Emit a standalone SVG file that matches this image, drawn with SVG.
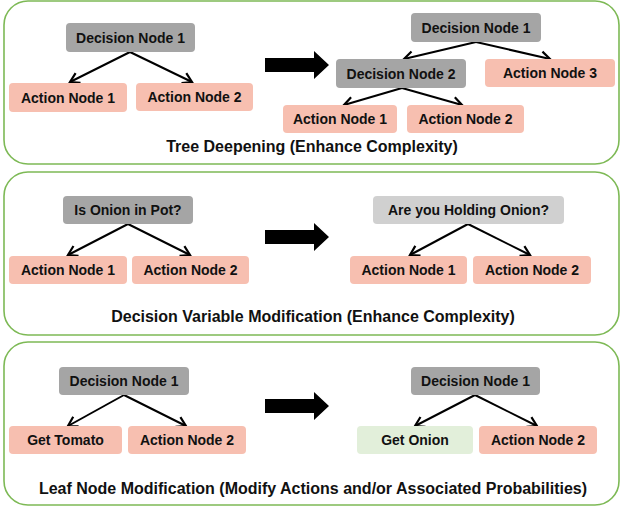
<svg xmlns="http://www.w3.org/2000/svg" width="621" height="506" viewBox="0 0 621 506">
<defs>
<marker id="ah" markerUnits="userSpaceOnUse" markerWidth="14" markerHeight="14" viewBox="0 0 14 14" refX="11" refY="7" orient="auto">
<path d="M2,1.5 L11,7 L2,12.5" fill="none" stroke="#000" stroke-width="2.2"/>
</marker>
</defs>
<style>
.panel{fill:#fff;stroke:#7DB955;stroke-width:1.6}
.dec{fill:#A5A5A5}
.dec2{fill:#D0D0D0}
.act{fill:#F7BFB0}
.grn{fill:#E2EFDA}
text{font-family:"Liberation Sans",Arial,sans-serif;font-weight:bold;fill:#111}
.nt{font-size:14px;text-anchor:middle}
.cap{font-size:16px;text-anchor:middle}
.edge{stroke:#000;stroke-width:2;fill:none;marker-end:url(#ah)}
.big{fill:#000}
</style>
<g id="panels">
<rect class="panel" x="4" y="1" width="615" height="163" rx="24"/>
<rect class="panel" x="4" y="172" width="615" height="163" rx="24"/>
<rect class="panel" x="4" y="342" width="615" height="163" rx="24"/>
</g>
<g id="big-arrows">
<polygon class="big" points="265,58 314,58 314,51 329,65 314,79 314,72 265,72"/>
<polygon class="big" points="265,230 314,230 314,223 329,237 314,251 314,244 265,244"/>
<polygon class="big" points="265,399 314,399 314,392 329,406 314,420 314,413 265,413"/>
</g>
<g id="connectors">
<line class="edge" x1="130" y1="52" x2="70" y2="82"/>
<line class="edge" x1="130" y1="52" x2="192" y2="82"/>
<line class="edge" x1="476" y1="42" x2="404" y2="59"/>
<line class="edge" x1="476" y1="42" x2="550" y2="59"/>
<line class="edge" x1="402" y1="88" x2="344" y2="105"/>
<line class="edge" x1="402" y1="88" x2="462" y2="105"/>
<line class="edge" x1="128" y1="224" x2="68" y2="255"/>
<line class="edge" x1="128" y1="224" x2="190" y2="255"/>
<line class="edge" x1="468" y1="224" x2="410" y2="255"/>
<line class="edge" x1="468" y1="224" x2="530" y2="255"/>
<line class="edge" x1="124" y1="395" x2="68" y2="426"/>
<line class="edge" x1="124" y1="395" x2="186" y2="426"/>
<line class="edge" x1="475" y1="395" x2="415" y2="426"/>
<line class="edge" x1="475" y1="395" x2="537" y2="426"/>
</g>
<g id="p1-dec1"><rect class="dec" x="66" y="23" width="129" height="29" rx="4"/><text class="nt" x="130.5" y="43">Decision Node 1</text></g>
<g id="p1-act1"><rect class="act" x="9" y="83" width="118" height="29" rx="4"/><text class="nt" x="68" y="103">Action Node 1</text></g>
<g id="p1-act2"><rect class="act" x="136" y="83" width="117" height="28" rx="4"/><text class="nt" x="194.5" y="102">Action Node 2</text></g>
<g id="p1r-dec1"><rect class="dec" x="411" y="13" width="130" height="29" rx="4"/><text class="nt" x="476" y="33">Decision Node 1</text></g>
<g id="p1r-dec2"><rect class="dec" x="336" y="59" width="130" height="29" rx="4"/><text class="nt" x="401" y="79">Decision Node 2</text></g>
<g id="p1r-act3"><rect class="act" x="485" y="59" width="130" height="28" rx="4"/><text class="nt" x="550" y="78">Action Node 3</text></g>
<g id="p1r-act1"><rect class="act" x="283" y="105" width="114" height="28" rx="4"/><text class="nt" x="340" y="124">Action Node 1</text></g>
<g id="p1r-act2"><rect class="act" x="407" y="105" width="117" height="28" rx="4"/><text class="nt" x="465.5" y="124">Action Node 2</text></g>
<text class="cap" x="312" y="152">Tree Deepening (Enhance Complexity)</text>
<g id="p2-dec"><rect class="dec" x="63" y="196" width="130" height="28" rx="4"/><text class="nt" x="128" y="215">Is Onion in Pot?</text></g>
<g id="p2-act1"><rect class="act" x="9" y="256" width="118" height="28" rx="4"/><text class="nt" x="68" y="275">Action Node 1</text></g>
<g id="p2-act2"><rect class="act" x="132" y="256" width="117" height="28" rx="4"/><text class="nt" x="190.5" y="275">Action Node 2</text></g>
<g id="p2r-dec"><rect class="dec2" x="373" y="196" width="191" height="28" rx="4"/><text class="nt" x="468.5" y="215">Are you Holding Onion?</text></g>
<g id="p2r-act1"><rect class="act" x="350" y="256" width="117" height="28" rx="4"/><text class="nt" x="408.5" y="275">Action Node 1</text></g>
<g id="p2r-act2"><rect class="act" x="473" y="256" width="118" height="28" rx="4"/><text class="nt" x="532" y="275">Action Node 2</text></g>
<text class="cap" x="313" y="322">Decision Variable Modification (Enhance Complexity)</text>
<g id="p3-dec"><rect class="dec" x="59" y="367" width="130" height="28" rx="4"/><text class="nt" x="124" y="386">Decision Node 1</text></g>
<g id="p3-act1"><rect class="act" x="9" y="426" width="113" height="28" rx="4"/><text class="nt" x="65.5" y="445">Get Tomato</text></g>
<g id="p3-act2"><rect class="act" x="128" y="426" width="118" height="28" rx="4"/><text class="nt" x="187" y="445">Action Node 2</text></g>
<g id="p3r-dec"><rect class="dec" x="411" y="367" width="129" height="28" rx="4"/><text class="nt" x="475.5" y="386">Decision Node 1</text></g>
<g id="p3r-act1"><rect class="grn" x="357" y="426" width="116" height="28" rx="4"/><text class="nt" x="415" y="445">Get Onion</text></g>
<g id="p3r-act2"><rect class="act" x="479" y="426" width="118" height="28" rx="4"/><text class="nt" x="538" y="445">Action Node 2</text></g>
<text class="cap" x="313" y="494">Leaf Node Modification (Modify Actions and/or Associated Probabilities)</text>
</svg>
